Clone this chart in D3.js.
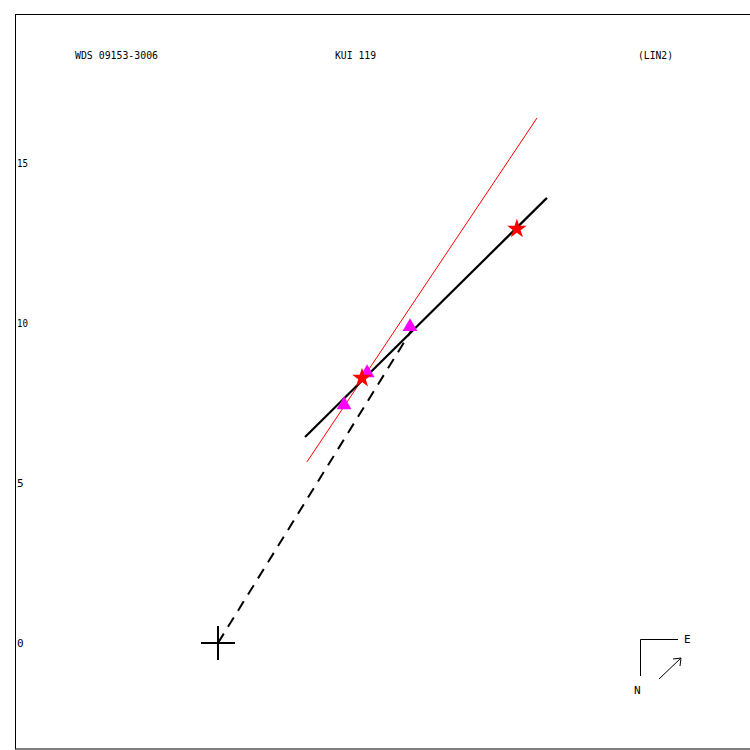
<!DOCTYPE html>
<html><head><meta charset="utf-8">
<script src="https://cdn.jsdelivr.net/npm/d3@7"></script>
<style>body{margin:0;background:#fff}svg{display:block}text{font-family:"DejaVu Sans Mono",monospace;font-size:11px}</style>
</head><body>
<script>
const titles = ["WDS 09153-3006", "KUI 119", "(LIN2)"];
const yTicks = [0, 5, 10, 15];
const stars = [[4.5, 8.28], [9.34, 12.94]];
const triangles = [[3.94, 7.44], [4.66, 8.44], [6.0, 9.88]];
const orbitLine = [[2.72, 6.44], [10.28, 13.91]];
const redLine = [[2.78, 5.66], [9.97, 16.41]];
const dashedLine = [[0, 0], [6.09, 9.84]];

const W = 750, H = 750;
const svg = d3.select("body").append("svg").attr("width", W).attr("height", H);
const y = d3.scaleLinear().domain([0, 15]).range([643, 163]);
const x = d3.scaleLinear().domain([0, 15]).range([218, 218 + 480]);

svg.append("rect").attr("x", 15.5).attr("y", 14.5).attr("width", 740).attr("height", 734.5)
  .attr("fill", "none").attr("stroke", "#000").attr("stroke-width", 1);

function label(t, px, py) {
  const s = String(t);
  const el = svg.append("text").attr("x", px).attr("y", py).text(s);
  if (s.length > 1) el.attr("textLength", s.length * 6 - 1).attr("lengthAdjust", "spacingAndGlyphs");
}
const tx = [75, 335, 638];
titles.forEach((t, i) => label(t, tx[i], 59));

yTicks.forEach(v => label(v, 17, y(v) + 4));

const line = d3.line().x(d => x(d[0])).y(d => y(d[1]));
svg.append("path").attr("d", line(redLine)).attr("stroke", "#f00").attr("stroke-width", 1).attr("fill", "none");
svg.append("path").attr("d", line(dashedLine)).attr("stroke", "#000").attr("stroke-width", 2)
  .attr("stroke-dasharray", "11,8").attr("fill", "none");
svg.append("path").attr("d", line(orbitLine)).attr("stroke", "#000").attr("stroke-width", 2.2).attr("fill", "none");

// origin cross
svg.append("path").attr("d", `M${x(0)-17},${y(0)}H${x(0)+17}M${x(0)},${y(0)-17}V${y(0)+17}`)
  .attr("stroke", "#000").attr("stroke-width", 2);

svg.selectAll(".tri").data(triangles).enter().append("path")
  .attr("d", d3.symbol(d3.symbolTriangle, 95)())
  .attr("transform", d => `translate(${x(d[0])},${y(d[1])})`).attr("fill", "#f0f");
svg.selectAll(".star").data(stars).enter().append("path")
  .attr("d", d3.symbol(d3.symbolStar, 120)())
  .attr("transform", d => `translate(${x(d[0])},${y(d[1])})`).attr("fill", "#f00");

// compass
svg.append("path").attr("d", "M640.5,676V639.5H678").attr("stroke", "#000").attr("fill", "none");
label("E", 684, 643);
label("N", 634, 694);
svg.append("path").attr("d", "M659,679L681,658M673,659L681,658L680,666").attr("stroke", "#000").attr("fill", "none");
</script>
</body></html>
